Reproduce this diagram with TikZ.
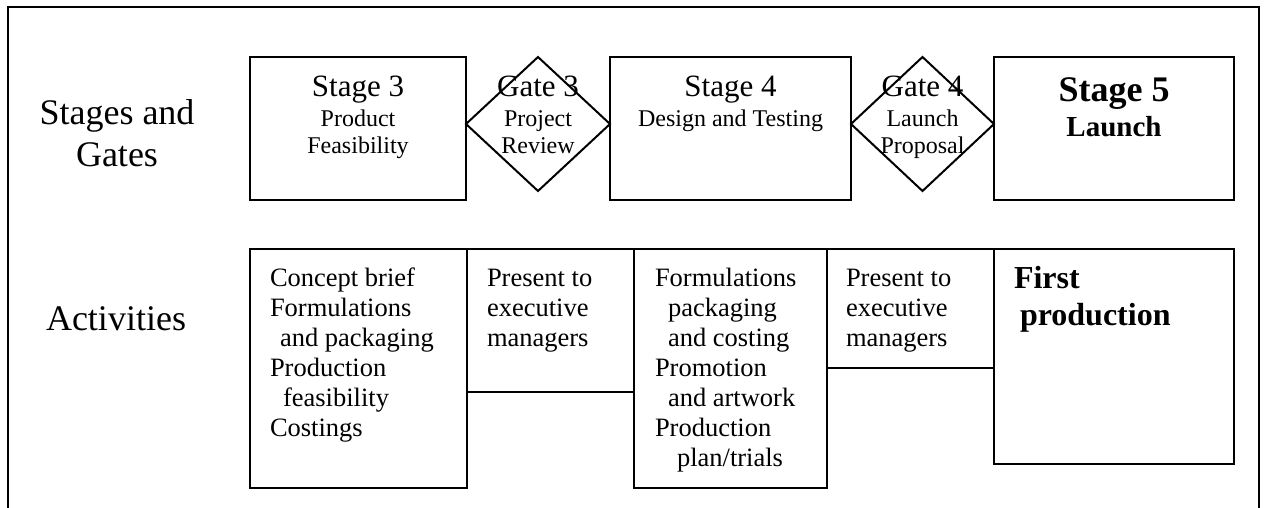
\documentclass[tikz,border=0pt]{standalone}
\usepackage{fontspec}
\setmainfont{Liberation Serif}
\usetikzlibrary{shapes.geometric}

% font size in pt with matching leading
\newcommand\fsz[1]{\fontsize{#1}{#1}\selectfont}
% stacked lines with a fixed baseline distance; the block's baseline is its first line
\newcommand\leftlines[2]{\vtop{\baselineskip=#1\lineskiplimit=-1000pt\relax\let\\\cr\halign{##\hfil\cr#2\cr}}}
\newcommand\midlines[2]{\vtop{\baselineskip=#1\lineskiplimit=-1000pt\relax\let\\\cr\halign{\hfil##\hfil\cr#2\cr}}}

\tikzset{
  frame/.style={line width=2pt},
  box/.style={draw, line width=2pt, rectangle, inner sep=0pt, outer sep=0pt, anchor=north west},
  gate/.style={draw, line width=2pt, diamond, inner sep=0pt, outer sep=0pt,
               minimum width=144pt, minimum height=134pt},
  txt/.style={inner sep=0pt, outer sep=0pt, anchor=base},
  ltxt/.style={inner sep=0pt, outer sep=0pt, anchor=base west},
  rowname/.style={txt, font=\fsz{36}},
  head/.style={txt, font=\fsz{31}},
  sub/.style={txt, font=\fsz{24}},
  act/.style={ltxt, font=\fsz{26.5}},
}

\begin{document}
\begin{tikzpicture}[x=1pt,y=-1pt]
\useasboundingbox (0,0) rectangle (1264,508);

% open frame round the chart
\draw[frame] (8,508) -- (8,7) -- (1259,7) -- (1259,508);

% row titles
\node[rowname] (rowsg) at (117,125) {\midlines{42pt}{Stages and\\Gates}};
\node[rowname] (rowact) at (116,330) {Activities};

% stages and gates
\node[box, minimum width=216pt, minimum height=143pt] (s3) at (250,57) {};
\node[gate] (g3) at (538,124) {};
\node[box, minimum width=241pt, minimum height=143pt] (s4) at (610,57) {};
\node[gate, minimum width=143pt] (g4) at (922.5,124) {};
\node[box, minimum width=240pt, minimum height=143pt] (s5) at (994,57) {};

\node[head] (s3t) at (358,97) {Stage 3};
\node[sub] (s3s) at (358,127) {\midlines{27pt}{Product\\Feasibility}};
\node[head] (g3t) at (538,97) {Gate 3};
\node[sub] (g3s) at (538,127) {\midlines{27pt}{Project\\Review}};
\node[head] (s4t) at (730.5,97) {Stage 4};
\node[sub] (s4s) at (730.5,127) {Design and Testing};
\node[head] (g4t) at (922.5,97) {Gate 4};
\node[sub] (g4s) at (922.5,127) {\midlines{27pt}{Launch\\Proposal}};
\node[txt, font=\fsz{36}\bfseries] (s5t) at (1114,102) {Stage 5};
\node[txt, font=\fsz{29}\bfseries] (s5s) at (1114,137) {Launch};

% activities
\node[box, minimum width=217pt, minimum height=239pt] (a1) at (250,249) {};
\node[box, minimum width=167pt, minimum height=143pt] (a2) at (467,249) {};
\node[box, minimum width=193pt, minimum height=239pt] (a3) at (634,249) {};
\node[box, minimum width=167pt, minimum height=119pt] (a4) at (827,249) {};
\node[box, minimum width=240pt, minimum height=215pt] (a5) at (994,249) {};

\node[act] (a1t) at (270,286) {\leftlines{30pt}{Concept brief\\Formulations\\\kern10pt and packaging\\Production\\\kern13pt feasibility\\Costings}};
\node[act] (a2t) at (487,286) {\leftlines{30pt}{Present to\\executive\\managers}};
\node[act] (a3t) at (655,286) {\leftlines{30pt}{Formulations\\\kern13pt packaging\\\kern13pt and costing\\Promotion\\\kern13pt and artwork\\Production\\\kern22pt plan/trials}};
\node[act] (a4t) at (846,286) {\leftlines{30pt}{Present to\\executive\\managers}};
\node[ltxt, font=\fsz{32}\bfseries] (a5t) at (1014,288) {\leftlines{37pt}{First\\\kern6pt production}};
\end{tikzpicture}
\end{document}
